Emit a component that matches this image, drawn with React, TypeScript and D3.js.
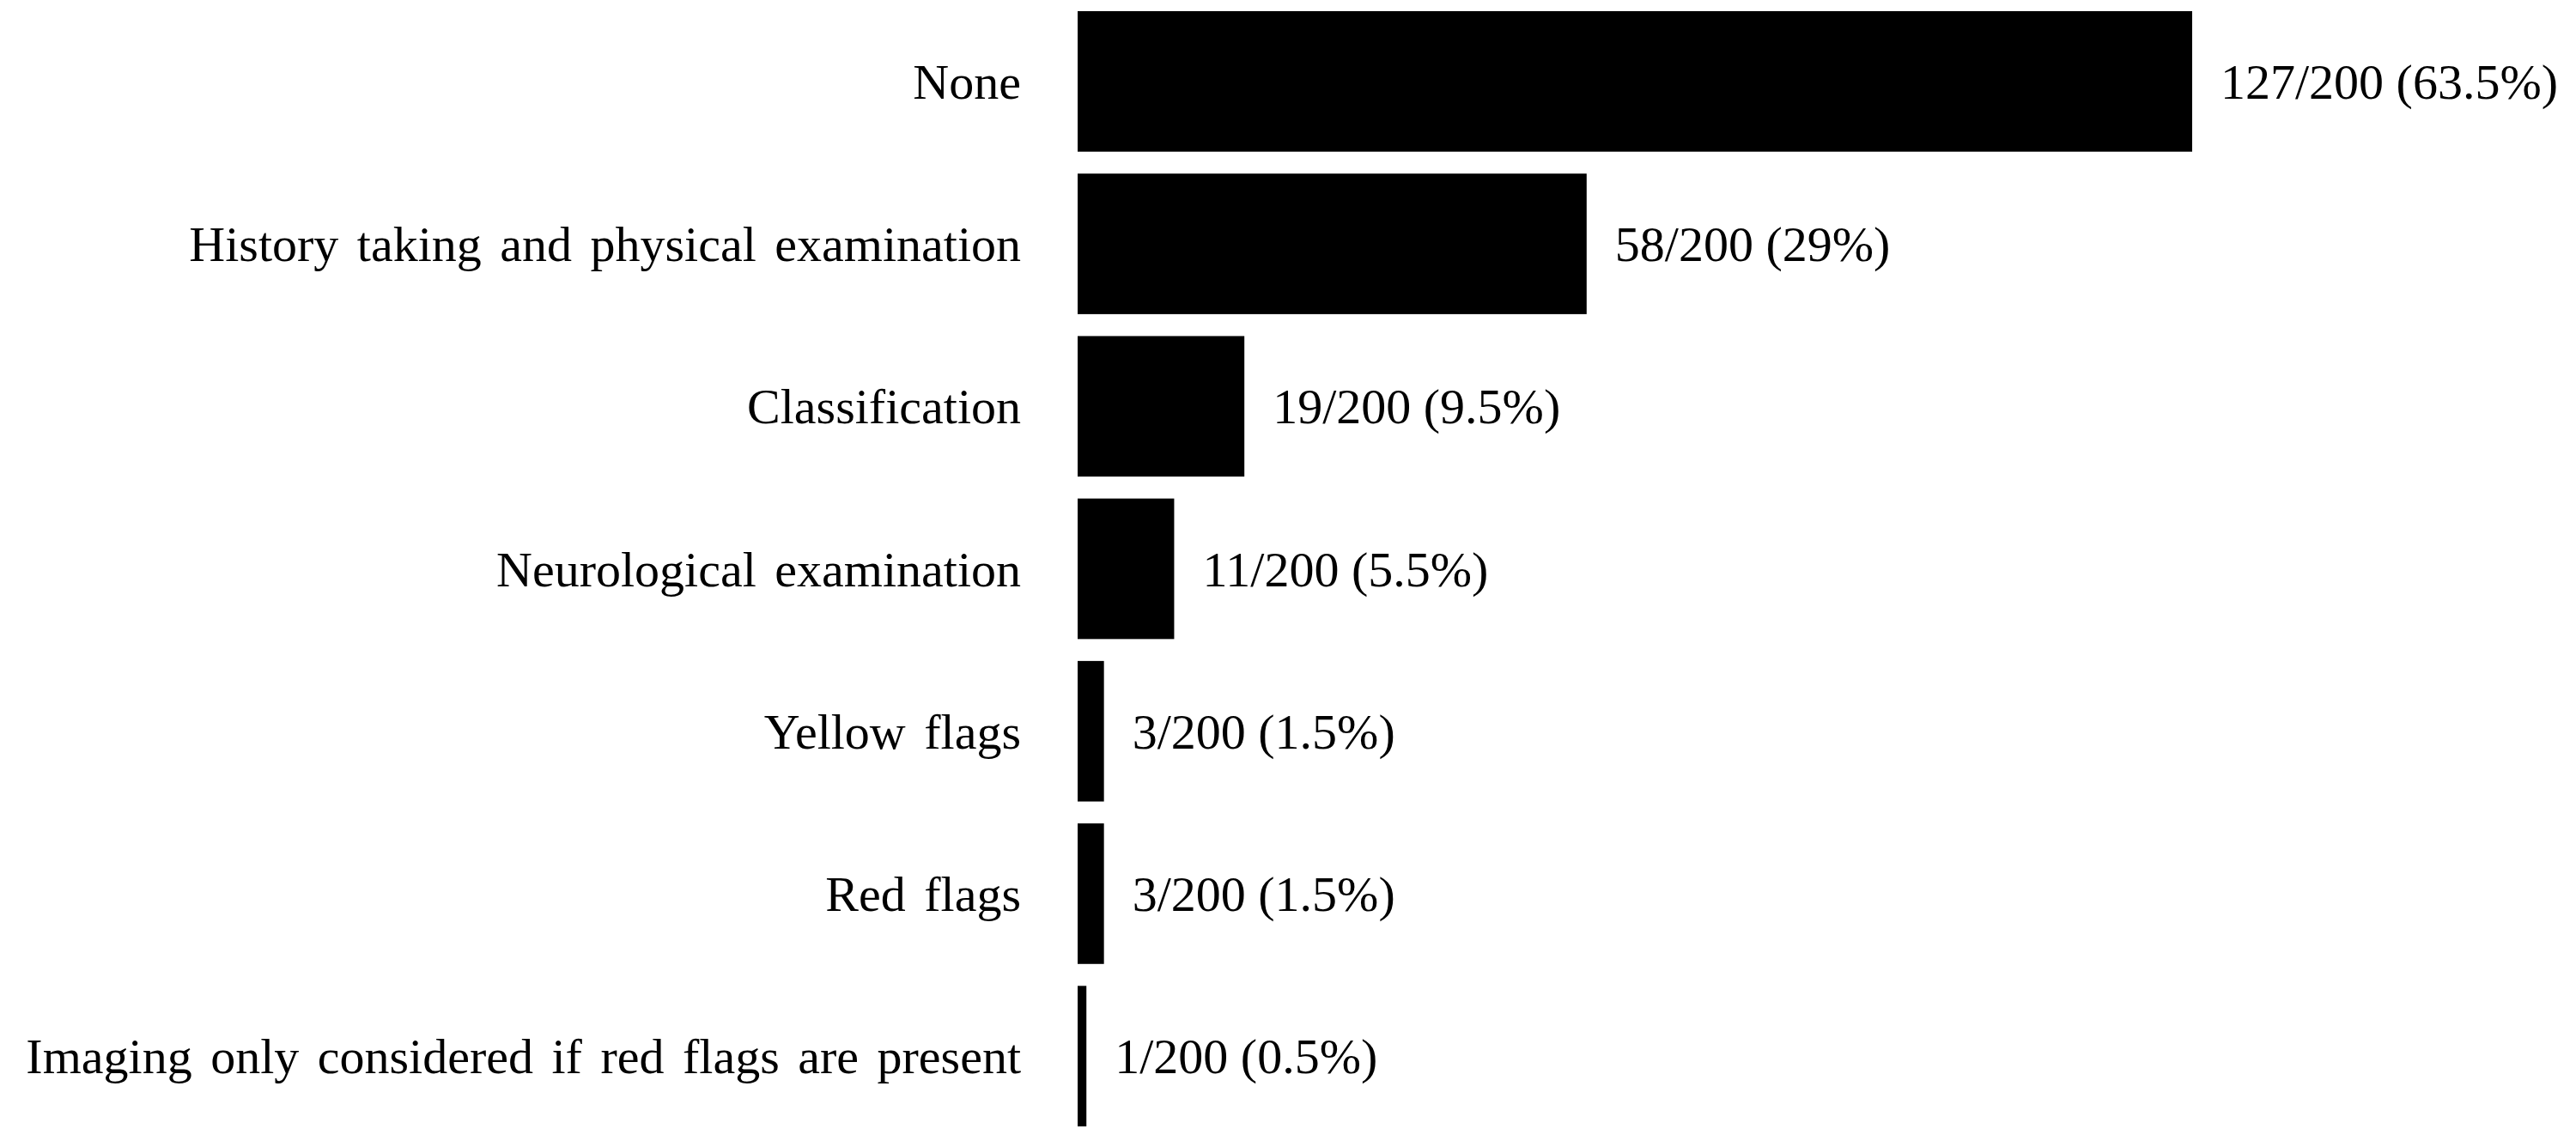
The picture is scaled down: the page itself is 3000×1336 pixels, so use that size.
import React from "react";
import * as d3 from "d3";

const categories = [
  "None",
  "History taking and physical examination",
  "Classification",
  "Neurological examination",
  "Yellow flags",
  "Red flags",
  "Imaging only considered if red flags are present",
];
const counts = [127, 58, 19, 11, 3, 3, 1];
const total = 200;
const percentLabels = ["63.5%", "29%", "9.5%", "5.5%", "1.5%", "1.5%", "0.5%"];

const WIDTH = 3000;
const HEIGHT = 1336;
const FONT = "'Liberation Serif', 'Times New Roman', serif";

export default function App() {
  const y = d3
    .scaleBand<string>()
    .domain(categories)
    .range([13, 1312])
    .paddingInner(0.135)
    .paddingOuter(0);
  const x = d3.scaleLinear().domain([0, 127]).range([1255, 2553]);

  return (
    <svg
      width={WIDTH}
      height={HEIGHT}
      viewBox={`0 0 ${WIDTH} ${HEIGHT}`}
      style={{ position: "absolute", left: 0, top: 0, background: "#fff" }}
    >
      <rect x={0} y={0} width={WIDTH} height={HEIGHT} fill="#fff" />
      {categories.map((c, i) => {
        const y0 = y(c) as number;
        const cy = y0 + y.bandwidth() / 2;
        return (
          <g key={c}>
            <rect
              x={x(0)}
              y={y0}
              width={Math.max(0, x(counts[i]) - x(0))}
              height={y.bandwidth()}
              fill="#000"
            />
            <text
              x={1189}
              y={cy + 20}
              textAnchor="end"
              fontFamily={FONT}
              fontSize={58}
              wordSpacing={7}
              fill="#000"
            >
              {c}
            </text>
            <text
              x={x(counts[i]) + 33}
              y={cy + 20}
              textAnchor="start"
              fontFamily={FONT}
              fontSize={58}
              fill="#000"
            >
              {`${counts[i]}/${total} (${percentLabels[i]})`}
            </text>
          </g>
        );
      })}
    </svg>
  );
}
